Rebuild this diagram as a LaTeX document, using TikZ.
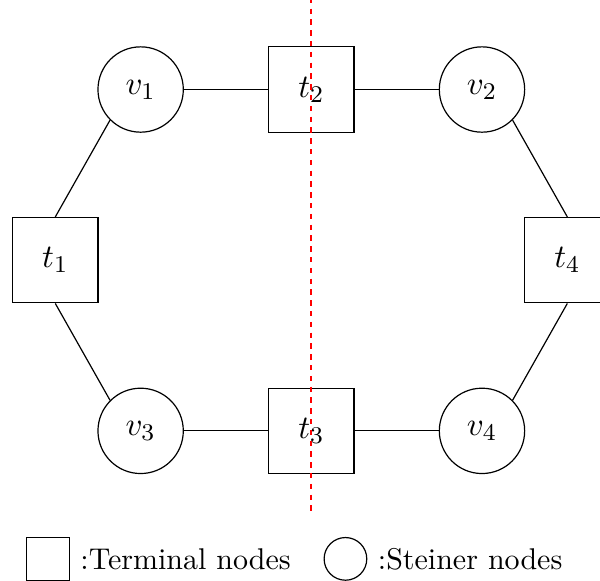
\documentclass[tikz,border=0pt]{standalone}
\begin{document}
\begin{tikzpicture}[
  terminal/.style={draw, rectangle, minimum size=1cm, inner sep=0pt, font=\fontsize{11}{13}\selectfont},
  steiner/.style={draw, circle, minimum size=1cm, inner sep=0pt, font=\fontsize{11}{13}\selectfont},
  legterm/.style={draw, rectangle, minimum size=0.5cm, inner sep=0pt},
  legstein/.style={draw, circle, minimum size=0.5cm, inner sep=0pt},
  cutline/.style={red, line width=0.6pt, dash pattern=on 1.8pt off 1.8pt}
]
\useasboundingbox (-0.648,-3.748) rectangle (6.383,3.049);

% graph nodes
\node[terminal] (t1) at (0,0) {$t_1$};
\node[steiner]  (v1) at (1,2) {$v_1$};
\node[terminal] (t2) at (3,2) {$t_2$};
\node[steiner]  (v2) at (5,2) {$v_2$};
\node[terminal] (t4) at (6,0) {$t_4$};
\node[steiner]  (v3) at (1,-2) {$v_3$};
\node[terminal] (t3) at (3,-2) {$t_3$};
\node[steiner]  (v4) at (5,-2) {$v_4$};

% edges of the cycle
\draw (t1.north) -- (v1.south west);
\draw (v1) -- (t2);
\draw (t2) -- (v2);
\draw (v2.south east) -- (t4.north);
\draw (t4.south) -- (v4.north east);
\draw (v4) -- (t3);
\draw (t3) -- (v3);
\draw (v3.north west) -- (t1.south);

% cut
\coordinate (cuttop) at (3,3.2);
\coordinate (cutbot) at (3,-2.95);
\draw[cutline] (cuttop) -- (cutbot);

% legend
\node[legterm] (lt) at (-0.086,-3.5) {};
\node[anchor=west] (ltx) at (lt.east) {:Terminal nodes};
\node[legstein] (ls) at (3.40,-3.5) {};
\node[anchor=west] (lsx) at (ls.east) {:Steiner nodes};
\end{tikzpicture}
\end{document}
